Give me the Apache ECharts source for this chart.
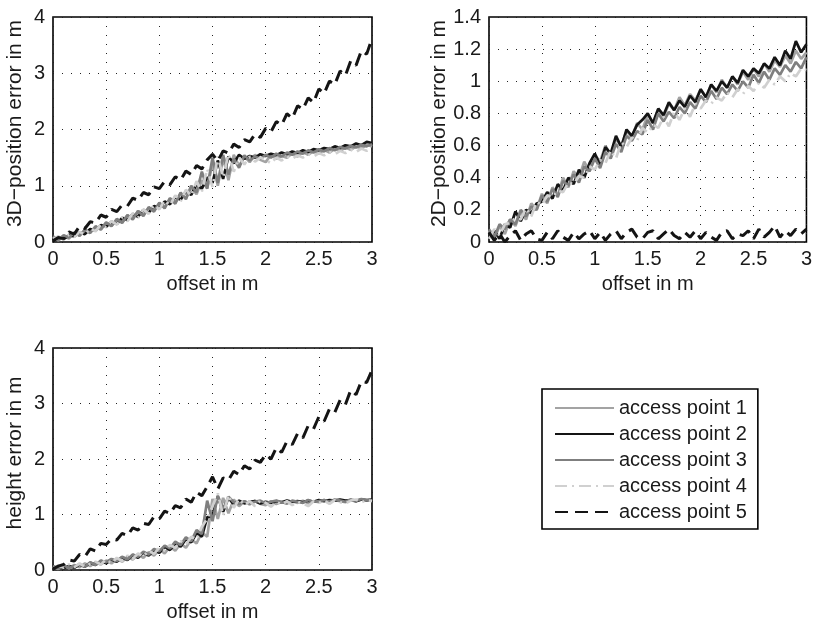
<!DOCTYPE html>
<html>
<head>
<meta charset="utf-8">
<script src="https://cdn.jsdelivr.net/npm/echarts@6/dist/echarts.min.js"></script>
<style>
  html, body { margin: 0; padding: 0; background: #fff; }
  #chart { width: 815px; height: 623px; }
</style>
</head>
<body>
<div id="chart"></div>
<script>
// Offset of the receiver from the true position (m)
const offsets = [
  0.00,0.05,0.10,0.15,0.20,0.25,0.30,0.35,0.40,0.45,
  0.50,0.55,0.60,0.65,0.70,0.75,0.80,0.85,0.90,0.95,
  1.00,1.05,1.10,1.15,1.20,1.25,1.30,1.35,1.40,1.45,
  1.50,1.55,1.60,1.65,1.70,1.75,1.80,1.85,1.90,1.95,
  2.00,2.05,2.10,2.15,2.20,2.25,2.30,2.35,2.40,2.45,
  2.50,2.55,2.60,2.65,2.70,2.75,2.80,2.85,2.90,2.95,
  3.00
];

const seriesNames = ['access point 1','access point 2','access point 3','access point 4','access point 5'];

// 3D-position error (m)
const err3dAp1 = [
  0.08,0.03,0.10,0.06,0.16,0.12,0.21,0.17,0.27,0.23,
  0.34,0.29,0.40,0.35,0.47,0.42,0.55,0.48,0.61,0.56,
  0.69,0.62,0.77,0.70,0.86,0.78,0.97,0.85,1.10,0.95,
  1.40,1.00,1.50,1.10,1.55,1.35,1.52,1.42,1.55,1.46,
  1.42,1.55,1.48,1.53,1.50,1.58,1.52,1.60,1.55,1.62,
  1.57,1.64,1.59,1.66,1.62,1.68,1.64,1.70,1.66,1.73,
  1.70
];
const err3dAp2 = [
  0.04,0.09,0.05,0.12,0.10,0.17,0.14,0.23,0.20,0.30,
  0.27,0.36,0.32,0.43,0.39,0.50,0.45,0.57,0.52,0.64,
  0.60,0.72,0.67,0.80,0.75,0.90,0.84,1.02,0.95,1.15,
  1.05,1.45,1.12,1.52,1.40,1.55,1.48,1.53,1.50,1.56,
  1.53,1.57,1.54,1.59,1.56,1.61,1.58,1.63,1.60,1.65,
  1.63,1.67,1.65,1.70,1.67,1.72,1.70,1.75,1.72,1.78,
  1.76
];
const err3dAp3 = [
  0.10,0.04,0.12,0.08,0.17,0.11,0.22,0.16,0.28,0.22,
  0.35,0.28,0.41,0.34,0.48,0.40,0.55,0.46,0.62,0.54,
  0.70,0.60,0.78,0.68,0.88,0.76,1.00,0.88,1.25,0.95,
  1.50,1.05,1.55,1.20,1.48,1.32,1.54,1.45,1.52,1.48,
  1.55,1.50,1.57,1.52,1.59,1.55,1.61,1.57,1.63,1.59,
  1.65,1.61,1.67,1.63,1.69,1.66,1.71,1.68,1.73,1.70,
  1.74
];
const err3dAp4 = [
  0.06,0.10,0.05,0.13,0.09,0.18,0.13,0.24,0.19,0.31,
  0.26,0.37,0.31,0.44,0.37,0.51,0.43,0.58,0.50,0.66,
  0.58,0.74,0.65,0.83,0.72,0.93,0.82,1.08,0.90,1.30,
  0.98,1.52,1.15,1.56,1.25,1.50,1.38,1.52,1.43,1.50,
  1.46,1.40,1.50,1.45,1.52,1.48,1.54,1.50,1.56,1.52,
  1.58,1.54,1.60,1.56,1.62,1.58,1.64,1.60,1.66,1.62,
  1.66
];
const err3dAp5 = [
  0.02,0.08,0.06,0.18,0.14,0.28,0.24,0.36,0.34,0.48,
  0.44,0.58,0.54,0.66,0.64,0.78,0.74,0.88,0.84,0.98,
  0.95,1.08,1.02,1.16,1.10,1.26,1.20,1.36,1.30,1.46,
  1.56,1.44,1.62,1.58,1.74,1.68,1.82,1.78,1.92,1.86,
  2.02,1.96,2.14,2.08,2.28,2.20,2.42,2.36,2.56,2.48,
  2.72,2.64,2.86,2.80,3.04,2.96,3.22,3.14,3.40,3.34,
  3.62
];

// 2D-position error (m)
const err2dAp1 = [
  0.07,0.02,0.10,0.05,0.14,0.10,0.19,0.14,0.24,0.20,
  0.30,0.24,0.34,0.29,0.40,0.34,0.44,0.40,0.50,0.44,
  0.54,0.50,0.60,0.54,0.64,0.60,0.69,0.65,0.74,0.70,
  0.79,0.74,0.83,0.78,0.86,0.82,0.90,0.85,0.92,0.88,
  0.95,0.90,0.98,0.93,1.01,0.96,1.03,0.98,1.06,1.01,
  1.08,1.03,1.11,1.06,1.13,1.09,1.16,1.11,1.19,1.14,
  1.18
];
const err2dAp2 = [
  0.03,0.07,0.02,0.11,0.09,0.19,0.13,0.20,0.18,0.24,
  0.25,0.31,0.27,0.36,0.32,0.40,0.36,0.45,0.40,0.49,
  0.55,0.48,0.59,0.55,0.66,0.59,0.70,0.66,0.73,0.76,
  0.80,0.74,0.83,0.79,0.87,0.82,0.88,0.84,0.91,0.87,
  0.95,0.90,0.98,0.94,1.00,0.96,1.03,0.99,1.07,1.03,
  1.08,1.05,1.11,1.08,1.15,1.10,1.19,1.14,1.25,1.18,
  1.23
];
const err2dAp3 = [
  0.08,0.03,0.11,0.08,0.14,0.11,0.20,0.16,0.22,0.20,
  0.29,0.25,0.33,0.28,0.38,0.35,0.42,0.37,0.47,0.44,
  0.52,0.46,0.56,0.52,0.61,0.56,0.66,0.63,0.69,0.67,
  0.76,0.70,0.80,0.75,0.81,0.77,0.84,0.80,0.87,0.83,
  0.91,0.87,0.94,0.89,0.96,0.92,0.98,0.94,1.00,0.96,
  1.04,0.99,1.06,1.01,1.08,1.04,1.10,1.06,1.12,1.08,
  1.15
];
const err2dAp4 = [
  0.02,0.08,0.04,0.11,0.12,0.15,0.14,0.21,0.16,0.25,
  0.23,0.29,0.28,0.32,0.31,0.37,0.36,0.41,0.40,0.47,
  0.45,0.51,0.49,0.57,0.52,0.62,0.59,0.65,0.63,0.71,
  0.68,0.73,0.71,0.78,0.72,0.81,0.76,0.83,0.78,0.86,
  0.83,0.88,0.86,0.90,0.88,0.93,0.90,0.95,0.92,0.97,
  0.94,0.99,0.96,1.01,0.98,1.03,1.00,1.05,1.03,1.08,
  1.07
];
const err2dAp5 = [
  0.06,0.01,0.05,0.00,0.04,0.07,0.01,0.05,0.07,0.02,
  0.01,0.06,0.02,0.07,0.03,0.01,0.06,0.02,0.05,0.07,
  0.02,0.06,0.01,0.05,0.07,0.02,0.06,0.08,0.03,0.02,
  0.06,0.07,0.02,0.05,0.08,0.04,0.02,0.06,0.03,0.07,
  0.02,0.06,0.03,0.01,0.06,0.07,0.02,0.05,0.04,0.07,
  0.02,0.08,0.03,0.06,0.10,0.03,0.07,0.04,0.08,0.05,
  0.08
];

// Height error (m)
const errHAp1 = [
  0.06,0.02,0.08,0.03,0.09,0.05,0.12,0.07,0.14,0.10,
  0.17,0.12,0.20,0.15,0.24,0.19,0.28,0.22,0.32,0.26,
  0.37,0.30,0.42,0.35,0.48,0.40,0.55,0.48,0.68,0.60,
  1.28,0.92,1.30,1.02,1.27,1.15,1.24,1.18,1.25,1.19,
  1.17,1.24,1.19,1.23,1.20,1.24,1.21,1.25,1.20,1.24,
  1.22,1.26,1.23,1.26,1.24,1.22,1.26,1.24,1.27,1.25,
  1.25
];
const errHAp2 = [
  0.02,0.07,0.03,0.07,0.04,0.10,0.06,0.13,0.09,0.16,
  0.12,0.19,0.15,0.23,0.18,0.27,0.22,0.32,0.26,0.36,
  0.31,0.42,0.36,0.48,0.42,0.56,0.50,0.66,0.60,0.95,
  0.98,1.32,1.05,1.30,1.18,1.25,1.20,1.23,1.24,1.20,
  1.23,1.21,1.24,1.22,1.25,1.23,1.24,1.22,1.25,1.23,
  1.26,1.24,1.26,1.25,1.27,1.25,1.26,1.24,1.27,1.26,
  1.27
];
const errHAp3 = [
  0.07,0.03,0.08,0.04,0.07,0.10,0.06,0.14,0.09,0.17,
  0.14,0.20,0.16,0.24,0.19,0.28,0.24,0.33,0.28,0.38,
  0.34,0.44,0.39,0.51,0.45,0.59,0.52,0.72,0.65,1.25,
  0.88,1.34,1.10,1.32,1.22,1.19,1.24,1.20,1.23,1.25,
  1.20,1.23,1.25,1.22,1.20,1.25,1.23,1.21,1.26,1.23,
  1.24,1.26,1.23,1.27,1.25,1.23,1.27,1.25,1.28,1.26,
  1.25
];
const errHAp4 = [
  0.03,0.08,0.04,0.10,0.05,0.12,0.06,0.11,0.15,0.10,
  0.19,0.12,0.22,0.16,0.26,0.20,0.30,0.24,0.35,0.29,
  0.40,0.35,0.45,0.40,0.52,0.46,0.60,0.55,0.78,0.92,
  1.15,1.38,0.98,1.35,1.12,1.28,1.17,1.24,1.15,1.25,
  1.21,1.14,1.23,1.18,1.24,1.17,1.23,1.20,1.15,1.24,
  1.21,1.25,1.19,1.26,1.22,1.20,1.25,1.27,1.22,1.26,
  1.24
];
const errHAp5 = [
  0.02,0.07,0.10,0.18,0.16,0.28,0.24,0.38,0.34,0.48,
  0.46,0.56,0.54,0.66,0.62,0.76,0.72,0.84,0.82,0.96,
  0.92,1.06,1.02,1.16,1.12,1.28,1.22,1.40,1.34,1.50,
  1.68,1.46,1.66,1.62,1.78,1.72,1.88,1.82,1.98,1.94,
  2.08,2.00,2.20,2.12,2.32,2.26,2.46,2.38,2.60,2.54,
  2.76,2.68,2.90,2.84,3.06,2.98,3.24,3.16,3.40,3.38,
  3.60
];

const FONT = '"Liberation Sans", Arial, Helvetica, sans-serif';

// line appearance for each access point
const lineStyles = [
  { color: '#a3a3a3', width: 2.7, type: 'solid' },
  { color: '#141414', width: 2.7, type: 'solid' },
  { color: '#7f7f7f', width: 2.7, type: 'solid' },
  { color: '#d0d0d0', width: 2.7, type: [12, 5, 2, 5] },
  { color: '#141414', width: 3, type: [13, 7] }
];

const panels = [
  { data: [err3dAp1, err3dAp2, err3dAp3, err3dAp4, err3dAp5], yMax: 4, yStep: 1,
    yName: '3D\u2212position error in m', grid: { left: 53, top: 17, width: 319, height: 225 } },
  { data: [err2dAp1, err2dAp2, err2dAp3, err2dAp4, err2dAp5], yMax: 1.4, yStep: 0.2,
    yName: '2D\u2212position error in m', grid: { left: 489, top: 17, width: 319, height: 225 } },
  { data: [errHAp1, errHAp2, errHAp3, errHAp4, errHAp5], yMax: 4, yStep: 1,
    yName: 'height error in m', grid: { left: 53, top: 348, width: 319, height: 225 } }
];

const grids = [], xAxes = [], yAxes = [], series = [];
const gridLine = { show: true, lineStyle: { color: '#222', width: 1, type: [1, 8] } };

panels.forEach((p, i) => {
  grids.push(Object.assign({ show: true, borderColor: '#000', borderWidth: 1.6, backgroundColor: '#fff' }, p.grid));
  xAxes.push({
    type: 'value', gridIndex: i, min: 0, max: 3, interval: 0.5,
    name: 'offset in m', nameLocation: 'middle', nameGap: 32,
    nameTextStyle: { fontFamily: FONT, fontSize: 20, color: '#1a1a1a' },
    axisLine: { show: false }, axisTick: { show: false },
    axisLabel: { fontFamily: FONT, fontSize: 20, color: '#1a1a1a', margin: 7 },
    splitLine: gridLine
  });
  yAxes.push({
    type: 'value', gridIndex: i, min: 0, max: p.yMax, interval: p.yStep,
    name: p.yName, nameLocation: 'middle', nameGap: 27,
    nameTextStyle: { fontFamily: FONT, fontSize: 21, color: '#1a1a1a', padding: [0, 0, 0, 12] },
    axisLine: { show: false }, axisTick: { show: false },
    axisLabel: { fontFamily: FONT, fontSize: 20, color: '#1a1a1a', margin: 8 },
    splitLine: gridLine
  });
  p.data.forEach((vals, k) => {
    series.push({
      name: seriesNames[k], type: 'line', xAxisIndex: i, yAxisIndex: i,
      data: offsets.map((x, j) => [x, vals[j]]),
      showSymbol: false, symbol: 'none', silent: true, animation: false,
      lineStyle: lineStyles[k], itemStyle: { color: lineStyles[k].color },
      z: 2 + k
    });
  });
});

const chart = echarts.init(document.getElementById('chart'), null, { renderer: 'canvas' });
chart.setOption({
  backgroundColor: '#fff',
  animation: false,
  grid: grids,
  xAxis: xAxes,
  yAxis: yAxes,
  legend: {
    data: seriesNames,
    orient: 'vertical',
    left: 542, top: 389,
    padding: [9, 11, 7, 12],
    itemWidth: 59, itemHeight: 14, itemGap: 6,
    itemStyle: { opacity: 0 },
    borderColor: '#000', borderWidth: 1.6, backgroundColor: '#fff',
    textStyle: { fontFamily: FONT, fontSize: 20, color: '#1a1a1a' },
    selectedMode: false
  },
  series: series
});
</script>
</body>
</html>
